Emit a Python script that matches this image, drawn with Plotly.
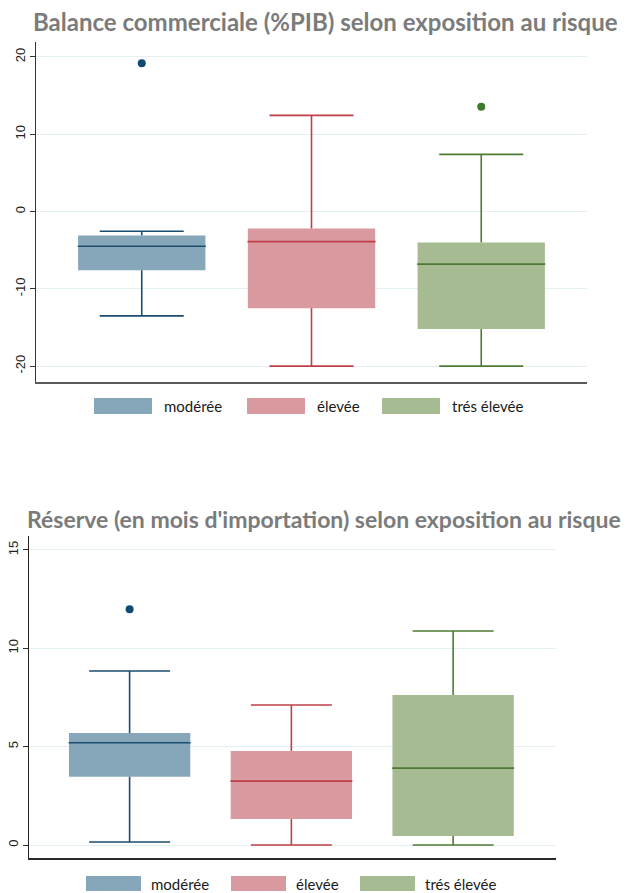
import plotly.graph_objects as go

W, H = 630, 893

categories = ["modérée", "élevée", "trés élevée"]

# Balance commerciale (%PIB)
bal_lower = [-13.5, -20.0, -20.0]
bal_q1 = [-7.6, -12.5, -15.2]
bal_median = [-4.5, -3.9, -6.8]
bal_q3 = [-3.1, -2.2, -4.0]
bal_upper = [-2.55, 12.45, 7.4]
bal_outliers = [[19.2], [], [13.55]]
bal_ticks = [-20, -10, 0, 10, 20]

# Réserve (en mois d'importation)
res_lower = [0.15, 0.0, 0.0]
res_q1 = [3.47, 1.32, 0.46]
res_median = [5.2, 3.25, 3.91]
res_q3 = [5.69, 4.78, 7.63]
res_upper = [8.85, 7.12, 10.88]
res_outliers = [[11.98], [], []]
res_ticks = [0, 5, 10, 15]

fill_colors = ["#86A6BA", "#D89A9E", "#A6BB92"]
line_colors = ["#1B4D70", "#BE3F48", "#4D7B34"]
dot_colors = ["#0F4A72", "#BE3F48", "#3F7A28"]

title1 = "Balance commerciale (%PIB) selon exposition au risque"
title2 = "Réserve (en mois d'importation) selon exposition au risque"


def px_x(p):
    return p / W


def px_y(p):
    return 1 - p / H


fig = go.Figure()

panels = [
    dict(xa="x", ya="y", lo=bal_lower, q1=bal_q1, md=bal_median, q3=bal_q3, up=bal_upper,
         out=bal_outliers, cap=42, half=64),
    dict(xa="x2", ya="y2", lo=res_lower, q1=res_q1, md=res_median, q3=res_q3, up=res_upper,
         out=res_outliers, cap=40.5, half=61),
]

for p in panels:
    for i, cat in enumerate(categories):
        # box body
        fig.add_trace(go.Bar(
            x=[i], y=[p["q3"][i] - p["q1"][i]], base=[p["q1"][i]], width=0.75,
            marker=dict(color=fill_colors[i], line=dict(width=0)),
            xaxis=p["xa"], yaxis=p["ya"], showlegend=False, hoverinfo="skip"))
        # whiskers
        fig.add_trace(go.Scatter(
            x=[i, i, None, i, i],
            y=[p["q3"][i], p["up"][i], None, p["q1"][i], p["lo"][i]],
            mode="lines", line=dict(color=line_colors[i], width=1.6),
            xaxis=p["xa"], yaxis=p["ya"], showlegend=False, hoverinfo="skip"))
        # caps
        fig.add_trace(go.Scatter(
            x=[i, i], y=[p["up"][i], p["lo"][i]], mode="markers",
            marker=dict(size=1, opacity=0),
            error_y=dict(type="data", array=[0, 0], width=p["cap"], thickness=1.6,
                         color=line_colors[i]),
            xaxis=p["xa"], yaxis=p["ya"], showlegend=False, hoverinfo="skip"))
        # median
        fig.add_trace(go.Scatter(
            x=[i], y=[p["md"][i]], mode="markers",
            marker=dict(size=1, opacity=0),
            error_y=dict(type="data", array=[0], width=p["half"], thickness=1.6,
                         color=line_colors[i]),
            xaxis=p["xa"], yaxis=p["ya"], showlegend=False, hoverinfo="skip"))
        # outliers
        if p["out"][i]:
            fig.add_trace(go.Scatter(
                x=[i] * len(p["out"][i]), y=p["out"][i], mode="markers",
                marker=dict(size=8, color=dot_colors[i]),
                xaxis=p["xa"], yaxis=p["ya"], showlegend=False, hoverinfo="skip"))

grid_col = "#E4EFF2"
tick_font = dict(family="Liberation Sans, Arial, sans-serif", size=13, color="#222222")

fig.update_layout(
    width=W, height=H, autosize=False,
    margin=dict(l=0, r=0, t=0, b=0),
    paper_bgcolor="white", plot_bgcolor="white",
    barmode="overlay", showlegend=False,
    xaxis=dict(domain=[px_x(36), px_x(587)], range=[-0.623, 2.623],
               showticklabels=False, ticks="", showgrid=False, zeroline=False,
               showline=True, linecolor="#5A5A5A", linewidth=2, anchor="y",
               fixedrange=True),
    yaxis=dict(domain=[px_y(382), px_y(42)], range=[-22.06, 21.94],
               tickvals=bal_ticks, ticktext=[str(t) for t in bal_ticks],
               tickangle=-90, ticks="outside", ticklen=5, tickcolor="#333333",
               tickfont=tick_font, showgrid=True, gridcolor=grid_col, gridwidth=1,
               zeroline=False, showline=True, linecolor="#333333", linewidth=1.3,
               anchor="x", automargin=False),
    xaxis2=dict(domain=[px_x(29), px_x(556)], range=[-0.622, 2.636],
                showticklabels=False, ticks="", showgrid=False, zeroline=False,
                showline=True, linecolor="#2A2A2A", linewidth=2, anchor="y2"),
    yaxis2=dict(domain=[px_y(858), px_y(536)], range=[-0.66, 15.71],
                tickvals=res_ticks, ticktext=[str(t) for t in res_ticks],
                tickangle=-90, ticks="outside", ticklen=5, tickcolor="#333333",
                tickfont=tick_font, showgrid=True, gridcolor=grid_col, gridwidth=1,
                zeroline=False, showline=True, linecolor="#222222", linewidth=1.3,
                anchor="x2", automargin=False),
)

title_font1 = dict(family="Lato, Open Sans, sans-serif", size=24, color="#7B7B7B", weight="bold")
title_font2 = dict(family="Lato, Open Sans, sans-serif", size=23, color="#7B7B7B", weight="bold")
fig.add_annotation(text="<b>" + title1 + "</b>", x=px_x(325), y=px_y(21), xref="paper", yref="paper",
                   showarrow=False, xanchor="center", yanchor="middle", font=title_font1)
fig.add_annotation(text="<b>" + title2 + "</b>", x=px_x(324), y=px_y(519), xref="paper", yref="paper",
                   showarrow=False, xanchor="center", yanchor="middle", font=title_font2)

legend_font = dict(family="Lato, Open Sans, sans-serif", size=15, color="#1A1A1A")
legends = [
    dict(rects=[94, 247, 382], w=58, y0=398, y1=414, gap=10),
    dict(rects=[86, 231, 360], w=55, y0=876, y1=891, gap=8),
]
for lg in legends:
    for i, cat in enumerate(categories):
        x0 = lg["rects"][i]
        fig.add_shape(type="rect", xref="paper", yref="paper",
                      x0=px_x(x0), x1=px_x(x0 + lg["w"]), y0=px_y(lg["y1"]), y1=px_y(lg["y0"]),
                      fillcolor=fill_colors[i], line=dict(width=0))
        fig.add_annotation(text=cat, x=px_x(x0 + lg["w"] + lg["gap"]),
                           y=px_y((lg["y0"] + lg["y1"]) / 2),
                           xref="paper", yref="paper", showarrow=False,
                           xanchor="left", yanchor="middle", font=legend_font)

fig.write_html("out.html", config={"displayModeBar": False, "staticPlot": True},
               post_script="document.body.style.margin='0';document.body.style.overflow='hidden';")
